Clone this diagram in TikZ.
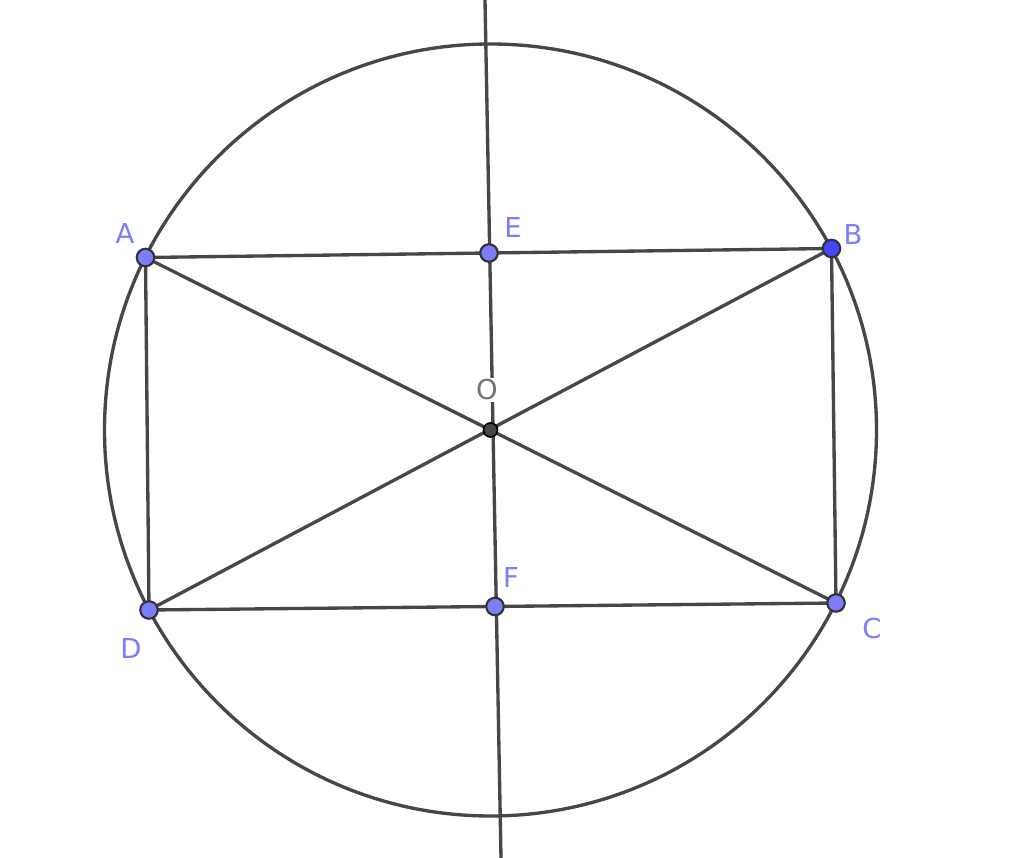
\documentclass[tikz,border=0pt]{standalone}
\usepackage{fontspec}
\setmainfont{DejaVu Sans}
\begin{document}
\begin{tikzpicture}[x=0.01cm,y=-0.01cm,
  geo/.style={draw=black!72,line width=0.95pt},
  pt/.style={circle,draw=black!80,line width=0.6pt,fill=ptblue,minimum size=0.175cm,inner sep=0pt},
  ptb/.style={pt,fill=ptdark},
  lbl/.style={text=lblblue,font=\fontsize{7.8pt}{9pt}\selectfont,inner sep=0pt}]
\definecolor{ptblue}{HTML}{7C7CFF}
\definecolor{ptdark}{HTML}{4545FF}
\definecolor{lblblue}{HTML}{7C7CFF}
\useasboundingbox[fill=white] (0,0) rectangle (1024,858);
\coordinate (A) at (145.5,257.5);
\coordinate (B) at (831.5,248.5);
\coordinate (C) at (836,603);
\coordinate (D) at (149,610);
\coordinate (E) at (489,253);
\coordinate (F) at (495,606.5);
\coordinate (O) at (490.5,430);
\coordinate (T) at (485,0);
\coordinate (U) at (501,858);
\draw[geo] (O) circle[radius=386];
\draw[geo] (T) -- (U);
\draw[geo] (A) -- (B) -- (C) -- (D) -- cycle;
\draw[geo] (A) -- (C);
\draw[geo] (B) -- (D);
\node[fill=white,inner sep=0.5pt,text=black!55,font=\fontsize{7.8pt}{9pt}\selectfont] (Ol) at (487,390) {O};
\node[circle,fill=black!72,draw=black,line width=0.5pt,minimum size=0.14cm,inner sep=0pt] (On) at (O) {};
\node[pt] (An) at (A) {};
\node[ptb] (Bn) at (B) {};
\node[pt] (Cn) at (C) {};
\node[pt] (Dn) at (D) {};
\node[pt] (En) at (E) {};
\node[pt] (Fn) at (F) {};
\node[lbl] (Al) at (125,234) {A};
\node[lbl] (Bl) at (853,235) {B};
\node[lbl] (Cl) at (872,629) {C};
\node[lbl] (Dl) at (131,648) {D};
\node[lbl] (El) at (513,228) {E};
\node[lbl] (Fl) at (511,578) {F};
\end{tikzpicture}
\end{document}
